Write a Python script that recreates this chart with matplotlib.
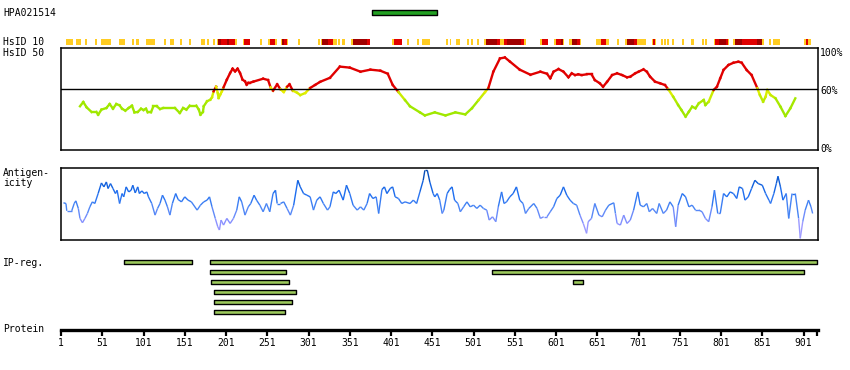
import numpy as np
import matplotlib
matplotlib.use("Agg")
import matplotlib.pyplot as plt
from matplotlib.collections import LineCollection
from matplotlib.colors import LinearSegmentedColormap, to_rgb

# ── data ──
PROTEIN_LEN = 917
antibody = "HPA021514"
antibody_range = (378, 457)

# HsID 10 strip: (start, end, level) 1=yellow 2=red 3=dark red
hsid10_segments = [
    (7, 15.5, 1), (19, 25, 1), (30, 32.5, 1), (42, 44.6, 1), (49.5, 61.6, 1),
    (71, 78.6, 1), (87, 89.5, 1), (92, 95.6, 1), (104, 115, 1), (126, 128.3, 1),
    (133, 138, 1), (145, 147.7, 1), (156, 158.6, 1), (170.7, 175.6, 1),
    (178, 180.4, 1), (185.3, 187.7, 1), (190, 191.4, 1), (191.4, 194.6, 3),
    (194.6, 202, 2), (202, 204.5, 3), (204.5, 212, 2), (212, 214.4, 1),
    (221.7, 222.9, 1), (222.9, 230.1, 2), (242.3, 244.7, 1), (252, 254.4, 1),
    (254.4, 260.5, 2), (260.5, 262.9, 1), (267.7, 269, 1), (269, 271.4, 3),
    (271.4, 275, 2), (275, 276.2, 1), (288.3, 290.8, 1), (312.6, 315, 1),
    (316.2, 317.4, 1), (317.4, 324.7, 3), (324.7, 330.8, 2), (330.8, 335.6, 1),
    (336.8, 339.3, 1), (341.7, 345.3, 1), (352.6, 355, 1), (355, 372, 3),
    (372, 375.6, 2), (402.3, 404.7, 1), (404.7, 414.4, 2), (420.5, 422.9, 1),
    (432.6, 435, 1), (438.7, 448.4, 1), (467.8, 470.2, 1), (472.6, 473.8, 1),
    (479.9, 484.7, 1), (493.2, 495.7, 1), (498.1, 500.5, 1), (505.4, 507.8, 1),
    (513.8, 516.3, 1), (516.3, 529.6, 3), (529.6, 533.3, 2), (533.3, 538.1, 1),
    (538.1, 541.7, 2), (541.7, 558.7, 3), (558.7, 562.3, 2), (562.3, 564.8, 1),
    (581.7, 584.2, 1), (584.2, 591.4, 2), (598.7, 601.1, 1), (601.1, 607.2, 2),
    (607.2, 609.6, 3), (609.6, 610.8, 1), (616.9, 620.5, 1), (620.5, 626.6, 3),
    (626.6, 630.3, 2), (630.3, 631.5, 1), (649.6, 655.7, 1), (655.7, 661.8, 2),
    (661.8, 665.4, 1), (675.1, 677.5, 1), (684.8, 687.2, 1), (687.2, 695.7, 3),
    (695.7, 699.3, 2), (699.3, 710.3, 1), (717.5, 718.8, 1), (718.8, 721.2, 2),
    (721.2, 722.4, 1), (728.4, 730.9, 1), (732.1, 734.5, 1), (735.7, 738.2, 1),
    (741.8, 744.2, 1), (754, 756.4, 1), (764.8, 768.5, 1), (778.2, 780.6, 1),
    (781.8, 784.3, 1), (792.7, 794, 1), (794, 798.8, 2), (798.8, 807.3, 3),
    (807.3, 809.7, 2), (809.7, 810.9, 1), (815.8, 818.2, 1), (818.2, 826.7, 3),
    (826.7, 844.9, 2), (844.9, 850.9, 3), (850.9, 853.4, 1), (859.4, 861.8, 1),
    (864.3, 872.8, 1), (901.8, 904.3, 1), (904.3, 906.7, 2), (906.7, 910.3, 1),
]

# HsID 50 (%)
hsid50_res = [24, 28, 32, 38, 44, 46, 50, 56, 60, 64, 68, 72, 75, 79, 83, 87, 90, 94, 98,
              101, 104, 106, 110, 113, 117, 121, 125, 139, 145, 149, 153, 157, 165, 168,
              170, 173, 174, 178, 182, 184, 186, 189, 191, 192, 194, 196, 198, 202, 206,
              209, 212, 215, 218, 221, 224, 226, 228, 230, 234, 246, 252, 255, 258, 263,
              267, 271, 275, 278, 282, 287, 291, 297, 303, 309, 315, 327, 339, 351, 364,
              376, 388, 397, 403, 410, 418, 424, 436, 442, 454, 467, 479, 491, 499, 507,
              515, 519, 525, 533, 539, 545, 557, 570, 582, 590, 594, 598, 604, 610, 616,
              620, 624, 628, 632, 638, 644, 648, 654, 658, 663, 669, 675, 681, 687, 691,
              697, 701, 707, 711, 715, 721, 727, 733, 737, 743, 749, 753, 758, 762, 766,
              770, 774, 780, 782, 786, 792, 796, 800, 804, 810, 816, 822, 826, 832, 838,
              845, 848, 852, 855, 857, 861, 867, 873, 879, 885, 891]
hsid50_val = [43, 47.2, 42, 37.4, 37.4, 34.7, 39.7, 41.3, 45.2, 40.6, 45.2, 43.9, 40.6, 38.7,
              41.3, 43.6, 37, 37.4, 40.6, 39.3, 40.6, 37, 37, 43, 43, 40.3, 41.3, 41.3, 36.4,
              41.3, 39.7, 43.6, 43.6, 39.7, 34.7, 37.4, 43, 47.9, 49.5, 51.8, 57.7, 62.3, 56,
              51.1, 54.4, 57.7, 61.6, 69.2, 75.7, 80, 77.3, 80, 75.7, 69.2, 67.5, 64.2, 66.1,
              66.1, 67.2, 70.1, 68.8, 61.6, 58.3, 64.6, 59.7, 57, 62.2, 64.6, 58.3, 56.4, 54,
              56, 61, 64, 67, 71, 82, 81, 77, 79, 78, 75, 64, 57, 49, 43, 37, 34, 37, 34, 37,
              35, 41, 49, 57, 61, 77, 90, 91, 87, 79, 74, 77, 75, 70.5, 77, 79.6, 77, 71.5,
              75.4, 73.7, 74.4, 73.7, 74.4, 74.4, 68.8, 65.6, 62.2, 67.2, 73.7, 75.4, 73.7,
              71.5, 72.1, 75.4, 77, 79.3, 77, 72.1, 67.2, 65.6, 63.9, 59.7, 52.4, 44.2, 39.3,
              32.8, 37.7, 42.6, 41, 45.9, 49.2, 44.2, 47.5, 59, 62.2, 70.5, 78.7, 83.6, 85.8,
              86.8, 85.8, 78.7, 73.7, 60.7, 54.1, 47.5, 52.4, 59, 54.1, 50.8, 42.6, 33.4, 41,
              50.8]

# antigenicity (relative, 0-100)
antigen_res = [4, 7, 8, 14, 17, 19, 22, 24, 27, 30, 33, 36, 39, 42, 46, 50, 53, 56, 58, 61,
               64, 67, 69, 72, 75, 77, 80, 83, 86, 88, 91, 94, 96, 99, 102, 105, 107, 111,
               115, 118, 121, 124, 127, 130, 133, 136, 140, 143, 147, 151, 155, 159, 166,
               170, 174, 178, 181, 184, 188, 191, 193, 195, 198, 202, 206, 210, 214, 217,
               220, 224, 228, 231, 235, 238, 242, 246, 250, 254, 258, 261, 263, 267, 271,
               275, 279, 283, 288, 291, 295, 299, 303, 307, 311, 315, 319, 324, 327, 331,
               334, 338, 343, 347, 351, 355, 360, 364, 368, 372, 375, 379, 383, 386, 390,
               393, 396, 400, 403, 406, 410, 414, 418, 424, 428, 432, 436, 440, 442, 445,
               448, 452, 454, 457, 460, 463, 465, 469, 472, 475, 478, 482, 485, 489, 493,
               497, 501, 505, 509, 513, 517, 520, 524, 528, 531, 535, 538, 541, 545, 549,
               553, 557, 561, 564, 568, 574, 578, 582, 586, 590, 594, 598, 602, 606, 610,
               614, 618, 622, 626, 630, 634, 638, 640, 644, 648, 653, 657, 661, 665, 671,
               673, 675, 679, 683, 687, 691, 695, 700, 703, 707, 711, 714, 718, 723, 726,
               731, 735, 739, 743, 746, 749, 754, 758, 762, 766, 770, 774, 778, 782, 786,
               790, 793, 797, 800, 804, 808, 812, 816, 820, 823, 827, 830, 834, 838, 842,
               846, 851, 855, 859, 861, 865, 868, 870, 873, 876, 880, 883, 887, 891, 895,
               897, 900, 903, 907, 910, 912]
antigen_val = [51.9, 50.9, 40.7, 40.7, 50.9, 54.6, 44.0, 30.1, 24.1, 30.1, 37.0, 46.3, 53.2,
               50.9, 64.8, 79.6, 74.1, 81.0, 71.8, 78.7, 71.8, 64.8, 69.4, 50.9, 64.8, 60.2,
               74.1, 67.1, 69.4, 76.4, 65.7, 74.1, 64.8, 68.5, 64.8, 67.1, 60.2, 50.9, 34.7,
               44.0, 50.9, 62.5, 55.6, 46.3, 34.7, 50.9, 64.8, 56.5, 53.2, 60.2, 55.6, 53.2,
               41.7, 48.6, 53.2, 55.6, 60.2, 46.3, 30.1, 18.5, 13.9, 27.8, 20.8, 30.1, 23.1,
               30.1, 41.7, 60.2, 53.2, 34.7, 46.3, 50.9, 62.5, 55.6, 48.6, 39.4, 50.9, 39.4,
               64.8, 69.4, 50.9, 50.9, 53.2, 44.0, 34.7, 48.6, 83.3, 74.1, 64.8, 62.5, 60.2,
               41.7, 55.6, 60.2, 50.9, 41.7, 46.3, 67.1, 64.8, 69.4, 55.6, 76.4, 64.8, 48.6,
               41.7, 46.3, 41.7, 50.9, 64.8, 57.9, 60.2, 37.0, 70.4, 74.1, 64.8, 71.8, 74.1,
               60.2, 57.9, 50.9, 53.2, 50.9, 55.6, 50.9, 67.1, 83.3, 97.2, 97.2, 81.0, 64.8,
               60.2, 64.8, 55.6, 37.0, 41.7, 64.8, 70.4, 74.1, 55.6, 50.9, 39.4, 46.3, 53.2,
               46.3, 48.6, 44.0, 48.6, 44.0, 41.7, 27.8, 32.4, 25.5, 46.3, 67.1, 50.9, 53.2,
               60.2, 64.8, 74.1, 55.6, 50.9, 37.0, 44.0, 50.9, 44.0, 30.1, 32.4, 32.4, 39.4,
               46.3, 57.9, 62.5, 74.1, 62.5, 55.6, 50.9, 48.6, 34.7, 23.1, 9.3, 25.5, 30.1,
               50.9, 34.7, 32.4, 41.7, 48.6, 51.9, 37.0, 23.1, 20.8, 34.7, 23.1, 27.8, 41.7,
               67.1, 48.6, 46.3, 50.9, 39.4, 44.0, 37.0, 50.9, 37.0, 41.7, 53.2, 46.3, 18.5,
               48.6, 64.8, 60.2, 46.3, 48.6, 41.7, 41.7, 39.4, 30.1, 25.5, 46.3, 69.4, 37.0,
               37.0, 64.8, 60.2, 67.1, 64.8, 57.9, 74.1, 71.8, 55.6, 60.2, 71.8, 83.3, 78.7,
               76.4, 64.8, 55.6, 50.9, 64.8, 78.7, 88.9, 74.1, 55.6, 64.8, 30.1, 64.8, 64.8,
               30.1, 2.3, 25.5, 41.7, 55.6, 46.3, 37.0]

# IP regions: row, start, end
ip_row = [1, 1, 2, 2, 3, 3, 4, 5, 6]
ip_start = [77, 181, 182, 523, 183, 622, 186, 186, 186]
ip_end = [160, 917, 274, 902, 277, 634, 286, 281, 272]

tick_pos = list(range(1, 902, 50))

# ── layout helpers (pixel -> figure fraction) ──
W, H = 850, 370
X0, X1 = 61, 818
XLIM = (1, 918.5)
FONT = "DejaVu Sans Mono"
FS = 7


def rect(y_top, y_bot, x0=X0, x1=X1):
    return [x0 / W, 1 - y_bot / H, (x1 - x0) / W, (y_bot - y_top) / H]


def label(x, y, s, **kw):
    fig.text(x / W, 1 - y / H, s, fontsize=FS, family=FONT, va="center", **kw)


def blend(c1, c2, t):
    a, b = np.array(to_rgb(c1)), np.array(to_rgb(c2))
    return tuple(a + (b - a) * t)


fig = plt.figure(figsize=(8.5, 3.7), dpi=100)
fig.patch.set_facecolor("white")

# antibody bar
ax_ab = fig.add_axes(rect(7, 17))
ax_ab.broken_barh([(antibody_range[0], antibody_range[1] - antibody_range[0])], (0, 1),
                  facecolors="#22a022", edgecolors="black", linewidth=1.0)
ax_ab.set_xlim(*XLIM)
ax_ab.set_ylim(-0.5, 1.5)
ax_ab.axis("off")
label(3, 13, antibody)

# HsID 10 strip
ax_s = fig.add_axes(rect(39, 45))
strip_colors = {1: "#ffcc22", 2: "#e00000", 3: "#a00000"}
for lev in (1, 2, 3):
    segs = [(s, e - s) for s, e, l in hsid10_segments if l == lev]
    ax_s.broken_barh(segs, (0, 1), facecolors=strip_colors[lev], linewidth=0)
ax_s.set_xlim(*XLIM)
ax_s.set_ylim(0, 1)
ax_s.axis("off")
label(3, 42, "HsID 10")
label(3, 53, "HsID 50")

# HsID 50 panel
ax_h = fig.add_axes(rect(48.3, 150))
pts = np.column_stack([hsid50_res, hsid50_val])
segs = np.stack([pts[:-1], pts[1:]], axis=1)
cols = []
for v in (pts[:-1, 1] + pts[1:, 1]) / 2:
    if v >= 60:
        cols.append(to_rgb("#e00000"))
    else:
        cols.append(blend("#eef000", "#a0e800", min(1, max(0, (60 - v) / 15))))
ax_h.add_collection(LineCollection(segs, colors=cols, linewidths=1.7, capstyle="projecting"))
ax_h.axhline(60, color="black", linewidth=1.0)
ax_h.set_xlim(*XLIM)
ax_h.set_ylim(0, 100)
ax_h.set_xticks([])
ax_h.set_yticks([])
for sp in ax_h.spines.values():
    sp.set_linewidth(1.1)
label(820, 52.5, "100%")
label(820, 90.5, "60%")
label(820, 149.5, "0%")

# antigenicity panel
ax_a = fig.add_axes(rect(168.3, 240))
cmap = LinearSegmentedColormap.from_list(
    "ag", [(0, "#b8a8ff"), (0.25, "#8a90ff"), (0.45, "#4a86f5"),
           (0.65, "#1e6ef0"), (0.85, "#0a58d0"), (1, "#003c90")])
pts = np.column_stack([antigen_res, antigen_val])
segs = np.stack([pts[:-1], pts[1:]], axis=1)
lc = LineCollection(segs, cmap=cmap, linewidths=1.0)
lc.set_array((pts[:-1, 1] + pts[1:, 1]) / 2)
lc.set_clim(0, 100)
ax_a.add_collection(lc)
ax_a.set_xlim(*XLIM)
ax_a.set_ylim(0, 100)
ax_a.set_xticks([])
ax_a.set_yticks([])
for sp in ax_a.spines.values():
    sp.set_linewidth(1.1)
label(3, 173.5, "Antigen-")
label(3, 183.5, "icity")

# IP regions
ax_ip = fig.add_axes(rect(257, 317))
for r, s, e in zip(ip_row, ip_start, ip_end):
    ax_ip.broken_barh([(s, e - s)], (r - 0.22, 0.44), facecolors="#9cc95c",
                      edgecolors="black", linewidth=1.0)
ax_ip.set_xlim(*XLIM)
ax_ip.set_ylim(6.5, 0.5)
ax_ip.axis("off")
label(3, 263.3, "IP-reg.")

# protein axis
ax_p = fig.add_axes(rect(300, 329.5))
ax_p.set_xlim(*XLIM)
for k in ("top", "left", "right"):
    ax_p.spines[k].set_visible(False)
ax_p.spines["bottom"].set_linewidth(2.4)
ax_p.set_yticks([])
ax_p.set_xticks(tick_pos + [PROTEIN_LEN])
ax_p.set_xticklabels([str(t) for t in tick_pos] + [""], family=FONT, fontsize=FS)
ax_p.tick_params(axis="x", direction="out", length=4, width=1.6, pad=2)
ax_p.patch.set_visible(False)
label(3, 329.3, "Protein")

fig.savefig("out.png", dpi=100)
